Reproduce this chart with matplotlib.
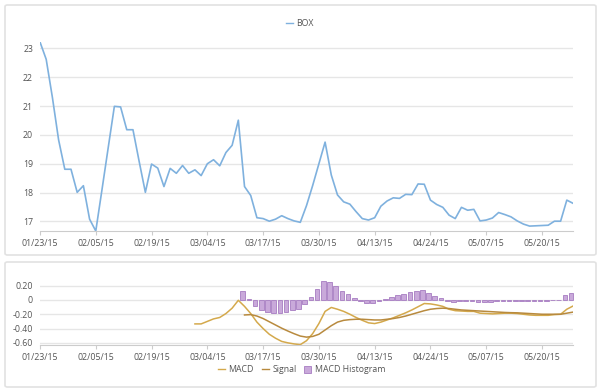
import numpy as np
import matplotlib
matplotlib.use('Agg')
import matplotlib.pyplot as plt
from matplotlib.patches import FancyBboxPatch, Patch
from matplotlib.lines import Line2D
from matplotlib.ticker import FuncFormatter

plt.rcParams['font.family'] = ['Open Sans', 'DejaVu Sans']

# data (one value per trading day)
box = [23.22, 22.62, 21.3, 19.83, 18.81, 18.81, 18.01, 18.24, 17.08, 16.67,
       18.1, 19.55, 20.99, 20.97, 20.18, 20.18, 19.08, 18.01, 18.99, 18.85,
       18.21, 18.84, 18.67, 18.94, 18.67, 18.79, 18.59, 19.0, 19.14, 18.93,
       19.39, 19.64, 20.51, 18.21, 17.9, 17.13, 17.1, 17.01, 17.08, 17.2,
       17.1, 17.02, 16.97, 17.55, 18.25, 19.0, 19.75, 18.61, 17.92, 17.68,
       17.6, 17.34, 17.1, 17.05, 17.13, 17.53, 17.71, 17.82, 17.8, 17.94,
       17.93, 18.3, 18.29, 17.74, 17.59, 17.49, 17.22, 17.1, 17.49, 17.39,
       17.42, 17.02, 17.05, 17.12, 17.31, 17.24, 17.16, 17.02, 16.91, 16.84,
       16.85, 16.86, 16.87, 17.01, 17.01, 17.74, 17.63]

macd_start = 25
macd = [-0.335, -0.335, -0.30, -0.265, -0.245, -0.19, -0.115, -0.005,
        -0.09, -0.19, -0.31, -0.40, -0.48, -0.535, -0.58, -0.60, -0.615,
        -0.625, -0.57, -0.47, -0.33, -0.16, -0.105, -0.13, -0.16, -0.20,
        -0.245, -0.285, -0.32, -0.33, -0.31, -0.28, -0.25, -0.215, -0.18,
        -0.14, -0.095, -0.05, -0.055, -0.07, -0.09, -0.13, -0.15, -0.155,
        -0.16, -0.16, -0.185, -0.19, -0.195, -0.19, -0.185, -0.185, -0.19,
        -0.20, -0.21, -0.215, -0.215, -0.215, -0.205, -0.20, -0.13, -0.085]

signal_start = 33
signal = [-0.21, -0.205, -0.225, -0.26, -0.305, -0.35, -0.395, -0.435,
          -0.472, -0.505, -0.52, -0.51, -0.48, -0.42, -0.36, -0.31, -0.285,
          -0.275, -0.27, -0.27, -0.275, -0.28, -0.28, -0.27, -0.26, -0.245,
          -0.225, -0.20, -0.175, -0.15, -0.13, -0.12, -0.115, -0.12, -0.13,
          -0.14, -0.145, -0.15, -0.155, -0.16, -0.165, -0.17, -0.175, -0.178,
          -0.18, -0.185, -0.19, -0.195, -0.20, -0.20, -0.20, -0.20, -0.185,
          -0.17]

hist = [0.12, 0.02, -0.085, -0.14, -0.175, -0.185, -0.185, -0.165, -0.143,
        -0.12, -0.05, 0.04, 0.147, 0.26, 0.25, 0.19, 0.13, 0.087, 0.03,
        -0.02, -0.046, -0.04, -0.018, 0.014, 0.04, 0.07, 0.087, 0.105,
        0.124, 0.133, 0.10, 0.06, 0.03, -0.02, -0.023, -0.02, -0.02, -0.015,
        -0.03, -0.03, -0.03, -0.02, -0.01, -0.01, -0.01, -0.015, -0.02,
        -0.02, -0.02, -0.02, -0.006, 0.005, 0.065, 0.097]

tick_labels = ['01/23/15', '02/05/15', '02/19/15', '03/04/15', '03/17/15',
               '03/30/15', '04/13/15', '04/24/15', '05/07/15', '05/20/15']
tick_step = 9

x = np.arange(len(box))
xm = np.arange(len(macd)) + macd_start
xs = np.arange(len(signal)) + signal_start

txt = '#555555'
grid = '#e6e6e6'
fs = 6.3

fig = plt.figure(figsize=(6, 3.9), dpi=100)
fig.patch.set_facecolor('white')

# the two cards
for (y0, y1) in [(5, 255), (262, 387)]:
    fig.patches.append(FancyBboxPatch((5 / 600, 1 - y1 / 390), 591 / 600, (y1 - y0) / 390,
                                      boxstyle='round,pad=0,rounding_size=0.004',
                                      transform=fig.transFigure, fc='none',
                                      ec='#e2e2e2', lw=1.2, zorder=-1))

def style(ax):
    ax.set_xlim(0, len(box) - 1)
    ax.set_xticks(range(0, len(tick_labels) * tick_step, tick_step))
    ax.set_xticklabels(tick_labels)
    for s in ['top', 'right', 'left']:
        ax.spines[s].set_visible(False)
    ax.spines['bottom'].set_color('#cccccc')
    ax.grid(axis='y', color=grid, lw=1)
    ax.set_axisbelow(True)
    ax.tick_params(axis='x', colors='#cccccc', labelcolor=txt, labelsize=fs,
                   length=3, pad=2.5)
    ax.tick_params(axis='y', length=0, labelcolor=txt, labelsize=fs, pad=5)
    ax.patch.set_alpha(0)

ax1 = fig.add_axes([40 / 600, 1 - 231 / 390, 533 / 600, 189 / 390])
ax1.plot(x, box, color='#7fb1de', lw=1.2)
ax1.set_ylim(min(box), max(box))
ax1.set_yticks([17, 18, 19, 20, 21, 22, 23])
style(ax1)
fig.legend(handles=[Line2D([], [], color='#7fb1de', lw=1)], labels=['BOX'],
           loc='center', bbox_to_anchor=(0.5, 1 - 24 / 390), frameon=False,
           fontsize=fs, handlelength=0.8, handletextpad=0.4, labelcolor=txt)

ax2 = fig.add_axes([40 / 600, 1 - 345 / 390, 533 / 600, 64 / 390])
bars = ax2.bar(xs - 0.3, hist, width=0.75, color='#c9a9da', edgecolor='#a77cc2', lw=0.6)
for b in bars:
    b.set_clip_on(False)
ax2.plot(xm, macd, color='#d4a94c', lw=1.1)
ax2.plot(xs, signal, color='#b88a3e', lw=1.1)
ax2.set_ylim(min(macd) - 0.005, max(hist) + 0.005)
ax2.set_yticks([-0.6, -0.4, -0.2, 0, 0.2])
ax2.yaxis.set_major_formatter(FuncFormatter(lambda v, p: '0' if abs(v) < 1e-9 else '%.2f' % v))
style(ax2)
fig.legend(handles=[Line2D([], [], color='#d4a94c', lw=1),
                    Line2D([], [], color='#b88a3e', lw=1),
                    Patch(fc='#c9a9da', ec='#a77cc2', lw=0.6)],
           labels=['MACD', 'Signal', 'MACD Histogram'],
           loc='center', bbox_to_anchor=(0.503, 1 - 370 / 390), ncol=3, frameon=False,
           fontsize=fs, handlelength=0.8, handleheight=0.8, handletextpad=0.4,
           columnspacing=0.9, labelcolor=txt)

fig.savefig('out.png', dpi=100)
